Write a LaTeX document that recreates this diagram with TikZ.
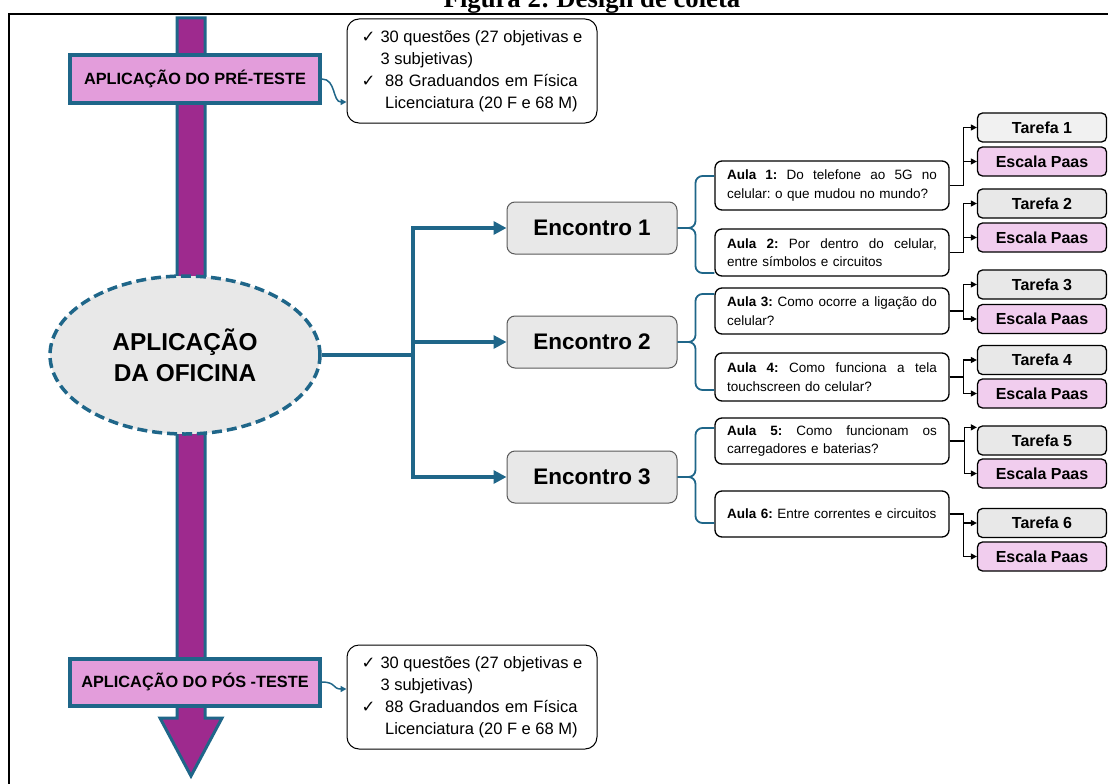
\documentclass[tikz,border=0pt]{standalone}
\usepackage{fontspec}
\setmainfont{Liberation Sans}
\newfontfamily\titlefont{Liberation Serif}
\newfontfamily\symfont{DejaVu Sans}
\usetikzlibrary{arrows.meta,shapes.geometric,calc}
\definecolor{tealc}{HTML}{1F6689}
\definecolor{barpurple}{HTML}{9E2A8E}
\definecolor{pinkfill}{HTML}{E39DDB}
\definecolor{escfill}{HTML}{F1CDEE}
\definecolor{greyfill}{HTML}{E8E8E8}
\definecolor{lightgrey}{HTML}{F1F1F1}
\definecolor{encborder}{HTML}{5A5A5A}
\frenchspacing
\newcommand{\ck}{{\symfont\char"2713}}
\tikzset{
  testbox/.style={draw=tealc, line width=4pt, fill=pinkfill, minimum width=250pt, minimum height=47pt, inner sep=0pt, font=\bfseries\fontsize{16.3}{19}\selectfont},
  infobox/.style={draw=black, line width=1pt, fill=white, rounded corners=12pt, minimum width=250pt, minimum height=104pt, inner sep=0pt, font=\fontsize{16.5}{22}\selectfont},
  encbox/.style={draw=encborder, line width=1pt, fill=greyfill, rounded corners=8pt, minimum width=170pt, minimum height=52pt, inner sep=0pt, font=\bfseries\fontsize{22.5}{26}\selectfont},
  aulabox/.style={draw=black, line width=1.3pt, fill=white, rounded corners=7pt, minimum width=234pt, text width=210pt, align=left, inner sep=0pt, font=\fontsize{13.5}{18.5}\selectfont},
  tarbox/.style={draw=black, line width=1.3pt, fill=greyfill, rounded corners=5pt, minimum width=129pt, minimum height=29pt, inner sep=0pt, font=\bfseries\fontsize{16}{19}\selectfont},
  escbox/.style={tarbox, fill=escfill},
  trunk/.style={draw=tealc, line width=3.5pt},
  trunkarrow/.style={trunk, -{Triangle[length=13pt,width=13pt]}},
  bracestyle/.style={draw=tealc, line width=1.8pt, rounded corners=7pt},
  blk/.style={draw=black, line width=1.3pt, -{Triangle[length=6pt,width=6pt]}},
  curvearrow/.style={draw=tealc, line width=1.5pt, -{Triangle[length=6pt,width=6pt]}},
}
\newcommand{\jl}[1]{\hbox to 210pt{#1}}
\newcommand{\hf}{\hskip 3pt plus 1fill\relax}
\begin{document}
\begin{tikzpicture}[x=1pt,y=-1pt]
\useasboundingbox (0,0) rectangle (1108,784);
\fill[white] (0,0) rectangle (1108,784);
% frame and title
\draw[line width=2pt] (9,784) -- (9,14) -- (1108,14);
\node[anchor=base, inner sep=0pt, font=\titlefont\bfseries\fontsize{26.7}{30}\selectfont] (title) at (592,8) {Figura 2: Design de coleta};
% vertical bar arrow
\draw[fill=barpurple, draw=tealc, line width=3pt, line join=miter] (177,18) -- (205,18) -- (205,718) -- (222,718) -- (191,776) -- (160,718) -- (177,718) -- cycle;
% test boxes
\node[testbox] (pre) at (195,79) {APLICAÇÃO DO PRÉ-TESTE};
\node[testbox] (pos) at (195,682) {APLICAÇÃO DO PÓS -TESTE};
\node[infobox] (preinfo) at (472,71) {\begin{tabular}{@{}l@{\hspace{5pt}}l@{}}\ck & 30 questões (27 objetivas e\\ & 3 subjetivas)\\ \ck & \hbox to 197pt{\ 88\hf Graduandos\hf em\hf Física}\\ & \ Licenciatura (20 F e 68 M)\end{tabular}};
\node[infobox] (posinfo) at (472,697) {\begin{tabular}{@{}l@{\hspace{5pt}}l@{}}\ck & 30 questões (27 objetivas e\\ & 3 subjetivas)\\ \ck & \hbox to 197pt{\ 88\hf Graduandos\hf em\hf Física}\\ & \ Licenciatura (20 F e 68 M)\end{tabular}};
\draw[curvearrow] (pre.east) .. controls +(14,0) and +(-14,0) .. ($(preinfo.west)+(0,31)$);
\draw[curvearrow] (pos.east) .. controls +(14,0) and +(-14,0) .. ($(posinfo.west)+(0,-8)$);
% ellipse
\node[ellipse, draw=tealc, line width=3.5pt, dash pattern=on 10pt off 5pt, fill=greyfill, minimum width=270pt, minimum height=158pt, inner sep=0pt, align=center, font=\bfseries\fontsize{24.4}{31}\selectfont] (ofic) at (185,355) {APLICAÇÃO\\DA OFICINA};
% encontros
\node[encbox] (e1) at (592,228) {Encontro 1};
\node[encbox] (e2) at (592,342) {Encontro 2};
\node[encbox] (e3) at (592,477) {Encontro 3};
\coordinate (j) at (413,355);
\draw[trunk] (ofic.east) -- (j);
\draw[trunkarrow] (j) |- (e1.west);
\draw[trunkarrow] (j) |- (e2.west);
\draw[trunkarrow] (j) |- (e3.west);
% aulas
\node[aulabox, minimum height=49pt] (a1) at (832,185.5) {\jl{\textbf{Aula\hf 1:}\hf Do\hf telefone\hf ao\hf 5G\hf no}\\celular: o que mudou no mundo?};
\node[aulabox, minimum height=47pt] (a2) at (832,252.5) {\jl{\textbf{Aula\hf 2:}\hf Por\hf dentro\hf do\hf celular,}\\entre símbolos e circuitos};
\node[aulabox, minimum height=46pt] (a3) at (832,311) {\jl{\textbf{Aula 3:}\hf Como\hf ocorre\hf a\hf ligação\hf do}\\celular?};
\node[aulabox, minimum height=48pt] (a4) at (832,377) {\jl{\textbf{Aula\hf 4:}\hf Como\hf funciona\hf a\hf tela}\\touchscreen do celular?};
\node[aulabox, minimum height=46pt] (a5) at (832,441) {\jl{\textbf{Aula\hf 5:}\hf Como\hf funcionam\hf os}\\carregadores e baterias?};
\node[aulabox, minimum height=46pt] (a6) at (832,514) {\mbox{\textbf{Aula 6:} Entre correntes e circuitos}};
% braces
\draw[bracestyle] (a1.west |- 0,176) -| ($(e1.east)+(18,0)$) -- (e1.east);
\draw[bracestyle] (a2.west |- 0,273) -| ($(e1.east)+(18,0)$) -- (e1.east);
\draw[bracestyle] (a3.west |- 0,294) -| ($(e2.east)+(18,0)$) -- (e2.east);
\draw[bracestyle] (a4.west |- 0,390) -| ($(e2.east)+(18,0)$) -- (e2.east);
\draw[bracestyle] (a5.west |- 0,428) -| ($(e3.east)+(18,0)$) -- (e3.east);
\draw[bracestyle] (a6.west |- 0,523) -| ($(e3.east)+(18,0)$) -- (e3.east);
% tarefas
\node[tarbox, fill=lightgrey] (t1) at (1042,127.5) {Tarefa 1};
\node[escbox] (s1) at (1042,161.5) {Escala Paas};
\node[tarbox] (t2) at (1042,203.5) {Tarefa 2};
\node[escbox] (s2) at (1042,237.5) {Escala Paas};
\node[tarbox] (t3) at (1042,284.5) {Tarefa 3};
\node[escbox] (s3) at (1042,319) {Escala Paas};
\node[tarbox] (t4) at (1042,360) {Tarefa 4};
\node[escbox] (s4) at (1042,393.5) {Escala Paas};
\node[tarbox] (t5) at (1042,440.5) {Tarefa 5};
\node[escbox] (s5) at (1042,473.5) {Escala Paas};
\node[tarbox] (t6) at (1042,523) {Tarefa 6};
\node[escbox] (s6) at (1042,556.5) {Escala Paas};
% connectors
\draw[blk] (a1.east) -- ++(14,0) |- (t1.west);
\draw[blk] (a1.east) -- ++(14,0) |- (s1.west);
\draw[blk] (a2.east) -- ++(14,0) |- (t2.west);
\draw[blk] (a2.east) -- ++(14,0) |- (s2.west);
\draw[blk] (a3.east) -- ++(14,0) |- (t3.west);
\draw[blk] (a3.east) -- ++(14,0) |- (s3.west);
\draw[blk] (a4.east) -- ++(14,0) |- (t4.west);
\draw[blk] (a4.east) -- ++(14,0) |- (s4.west);
\draw[blk] (a5.east) -- ++(15,0) |- ($(t5.north west)+(0,2)$);
\draw[blk] (a5.east) -- ++(15,0) |- (s5.west);
\draw[blk] (a6.east) -- ++(14,0) |- (t6.west);
\draw[blk] (a6.east) -- ++(14,0) |- (s6.west);
\end{tikzpicture}
\end{document}
